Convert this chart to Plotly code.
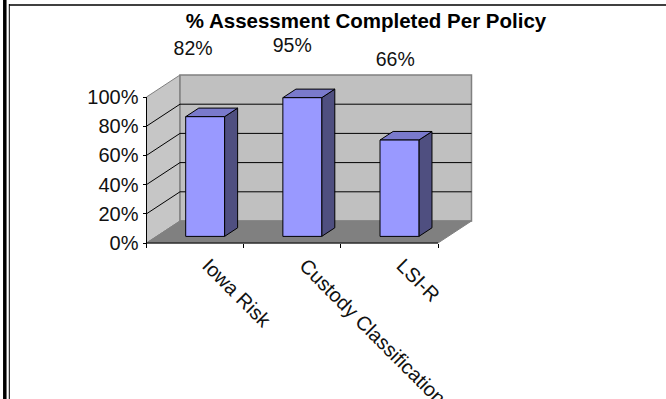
import plotly.graph_objects as go

# Chart content
categories = ["Iowa Risk", "Custody Classification", "LSI-R"]
completed_pct = [82, 95, 66]
y_ticks = [0, 20, 40, 60, 80, 100]
y_tick_labels = ["0%", "20%", "40%", "60%", "80%", "100%"]
value_labels = ["82%", "95%", "66%"]
value_label_heights = [132, 134, 124.5]
value_label_centres = [0.48, 1.5, 2.56]

WIDTH, HEIGHT = 666, 399
AXIS_LEFT, AXIS_RIGHT = 146.5, 438.0
AXIS_TOP, AXIS_BOTTOM = 97.0, 243.0
PX_PER_CAT = (AXIS_RIGHT - AXIS_LEFT) / len(categories)
PX_PER_PCT = (AXIS_BOTTOM - AXIS_TOP) / 100

# Oblique projection: full depth of the box, in axis units
DEPTH_X = 33.5 / PX_PER_CAT
DEPTH_Y = 22.0 / PX_PER_PCT
BAR_WIDTH = 0.4
BAR_NEAR, BAR_FAR = 0.3, 0.69

WALL = "#C0C0C0"
SIDE_WALL = "#C6C6C6"
FLOOR = "#808080"
EDGE = "#808080"
BAR_FRONT = "#9999FF"
BAR_TOP = "#7A7ACC"
BAR_SIDE = "#4F4F80"
INK = "#000000"


def proj(x, y, t=0.0):
    return x + t * DEPTH_X, y + t * DEPTH_Y


def polygon(points, fill, line=None, width=1):
    xs, ys = zip(*(points + points[:1]))
    return go.Scatter(
        x=xs, y=ys, mode="lines", fill="toself", fillcolor=fill,
        line=dict(color=line or fill, width=width),
        hoverinfo="skip", showlegend=False,
    )


def polyline(points, color=INK, width=1):
    xs, ys = zip(*points)
    return go.Scatter(
        x=xs, y=ys, mode="lines", line=dict(color=color, width=width),
        hoverinfo="skip", showlegend=False,
    )


n = len(categories)
fig = go.Figure()

# Box: side wall, back wall, floor
fig.add_trace(polygon([proj(0, 0), proj(0, 0, 1), proj(0, 100, 1), proj(0, 100)], SIDE_WALL, EDGE))
fig.add_trace(polygon([proj(0, 0, 1), proj(n, 0, 1), proj(n, 100, 1), proj(0, 100, 1)], WALL, EDGE, 1.5))
fig.add_trace(polygon([proj(0, 0), proj(n, 0), proj(n, 0, 1), proj(0, 0, 1)], FLOOR))

# Gridlines wrap from the side wall across the back wall
for tick in y_ticks[1:-1]:
    fig.add_trace(polyline([proj(0, tick), proj(0, tick, 1), proj(n, tick, 1)]))

# Bars
for i, value in enumerate(completed_pct):
    left = i + 0.5 - BAR_WIDTH / 2
    right = left + BAR_WIDTH
    near = BAR_NEAR
    far = BAR_FAR
    fig.add_trace(polygon([proj(right, 0, near), proj(right, 0, far),
                           proj(right, value, far), proj(right, value, near)], BAR_SIDE, INK))
    fig.add_trace(polygon([proj(left, value, near), proj(right, value, near),
                           proj(right, value, far), proj(left, value, far)], BAR_TOP, INK))
    fig.add_trace(polygon([proj(left, 0, near), proj(right, 0, near),
                           proj(right, value, near), proj(left, value, near)], BAR_FRONT, INK))

# Axis lines
fig.add_trace(polyline([proj(0, 0), proj(0, 100)], INK))
fig.add_trace(polyline([proj(0, 0), proj(n, 0)], INK, 1.2))

# Value labels above the bars
fig.add_trace(go.Scatter(
    x=value_label_centres, y=value_label_heights, mode="text",
    text=value_labels, textposition="middle center",
    textfont=dict(family="Liberation Sans", size=19.5, color="#111111"),
    hoverinfo="skip", showlegend=False,
))

x_min = -AXIS_LEFT / PX_PER_CAT
x_max = (WIDTH - AXIS_LEFT) / PX_PER_CAT
y_max = AXIS_BOTTOM / PX_PER_PCT
y_min = -(HEIGHT - AXIS_BOTTOM) / PX_PER_PCT

fig.update_layout(
    width=WIDTH, height=HEIGHT,
    margin=dict(l=0, r=0, t=0, b=0, autoexpand=False),
    paper_bgcolor="white", plot_bgcolor="white",
    showlegend=False,
    title=dict(
        text="<b>% Assessment Completed Per Policy</b>",
        x=366 / WIDTH, xanchor="center", y=1 - 21 / HEIGHT, yanchor="middle",
        font=dict(family="Liberation Sans", size=20.5, color="#000000"),
    ),
    xaxis=dict(
        range=[x_min, x_max], anchor="free", position=1 - AXIS_BOTTOM / HEIGHT,
        automargin=False,
        showgrid=False, zeroline=False, showline=False,
        tickmode="array", tickvals=[i + 0.5 for i in range(n)], ticktext=categories,
        tickangle=45, ticks="", ticklabelstandoff=6, ticklabelshift=13,
        tickfont=dict(family="Liberation Sans", size=20, color="#111111"),
        minor=dict(tickmode="array", tickvals=list(range(n + 1)), ticks="outside",
                   ticklen=4, tickcolor=INK, showgrid=False),
    ),
    yaxis=dict(
        range=[y_min, y_max], anchor="free", position=AXIS_LEFT / WIDTH,
        automargin=False,
        showgrid=False, zeroline=False, showline=False,
        tickmode="array", tickvals=y_ticks, ticktext=y_tick_labels,
        ticks="outside", ticklen=4, tickcolor=INK,
        tickfont=dict(family="Liberation Sans", size=20, color="#111111"),
    ),
    shapes=[
        dict(type="line", xref="paper", yref="paper", x0=4.8 / WIDTH, x1=4.8 / WIDTH, y0=0, y1=1,
             line=dict(color="#000000", width=3.5)),
        dict(type="line", xref="paper", yref="paper", x0=9.3 / WIDTH, x1=9.3 / WIDTH, y0=0, y1=1 - 4 / HEIGHT,
             line=dict(color="#000000", width=1)),
        dict(type="line", xref="paper", yref="paper", x0=9 / WIDTH, x1=1, y0=1 - 5 / HEIGHT, y1=1 - 5 / HEIGHT,
             line=dict(color="#000000", width=1.5)),
    ],
)

fig.write_html("out.html", config=dict(displayModeBar=False))
